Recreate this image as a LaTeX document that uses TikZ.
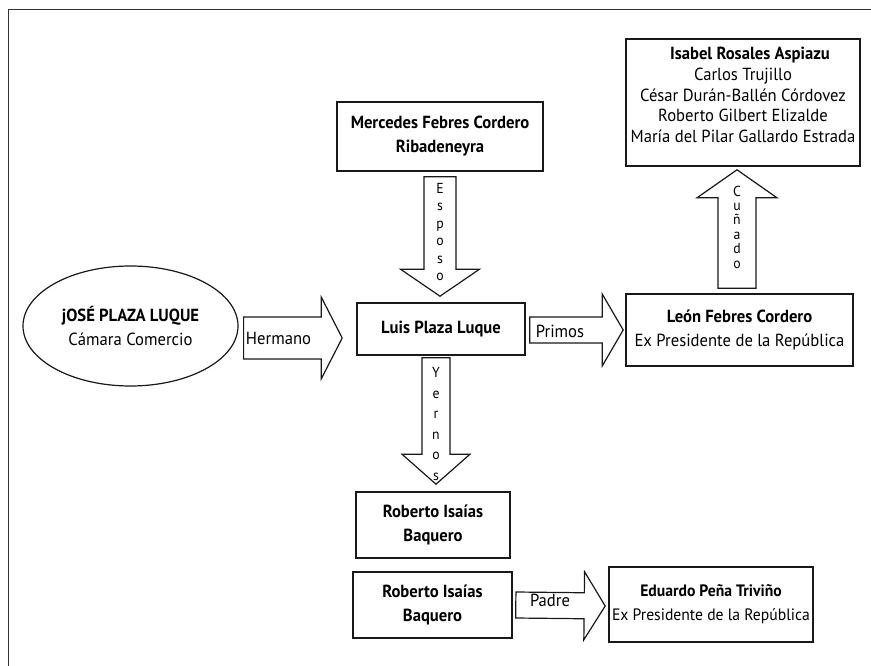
\documentclass[tikz,border=0pt]{standalone}
\usepackage{fontspec}
\setmainfont{PT Sans}[FakeStretch=0.95]
\usetikzlibrary{calc,shapes.geometric}

% block arrow from tail #2 to tip #3: shaft half-width #4, head half-width #5, head length #6
\newcommand\blockarrow[6]{%
  \coordinate (#1-b) at ($(#3)!#6!(#2)$);
  \draw[blockarrow] ($(#2)!#4!90:(#3)$) -- ($(#1-b)!#4!90:(#3)$)
    -- ($(#1-b)!#5!90:(#3)$) -- (#3) -- ($(#1-b)!#5!-90:(#3)$)
    -- ($(#1-b)!#4!-90:(#3)$) -- ($(#2)!#4!-90:(#3)$) -- cycle;}

\tikzset{
  frame/.style={draw=black!80, line width=1.8pt},
  box/.style={draw=black!90, line width=1.6pt, rectangle, inner sep=0pt, align=center,
    font=\fontsize{17.5}{24}\selectfont},
  oval/.style={draw=black!90, line width=1.2pt, ellipse, inner sep=0pt, align=center,
    font=\fontsize{17.5}{24}\selectfont},
  blockarrow/.style={draw=black!90, line width=1.2pt, fill=white, line join=miter},
  lbl/.style={inner sep=0pt, font=\fontsize{17.5}{18}\selectfont},
  vlbl/.style={inner sep=0pt, align=center, font=\fontsize{14.5}{#1}\selectfont},
  lines/.style={inner sep=0pt, align=center, font=\fontsize{17.5}{20.8}\selectfont},
}

\begin{document}
\begin{tikzpicture}[x=1pt,y=-1pt]
\useasboundingbox (0,0) rectangle (871,666);
\fill[white] (0,0) rectangle (871,666);

% page frame (top and left edges)
\draw[frame] (871,9.5) -- (8.5,9.5) -- (8.5,666);

% people
\node[oval, minimum width=215pt, minimum height=120pt] (jose) at (130.5,326)
  {\textbf{jOSÉ PLAZA LUQUE}\\Cámara Comercio};
\node[box, minimum width=168pt, minimum height=52pt] (luis) at (441,329)
  {\raisebox{3pt}{\textbf{Luis Plaza Luque}}};
\node[box, minimum width=206pt, minimum height=69pt] (mercedes) at (440,136.5)
  {\textbf{Mercedes Febres Cordero}\\\textbf{Ribadeneyra}};
\node[box, minimum width=227pt, minimum height=72pt] (leon) at (739.5,330)
  {\textbf{León Febres Cordero}\\Ex Presidente de la República};
\node[box, minimum width=234pt, minimum height=127pt] (isabel) at (743,102.5) {};
\node[lines] (isabel-txt) at (743,95)
  {\hspace*{14pt}\textbf{Isabel Rosales Aspiazu}\\Carlos Trujillo\\César Durán-Ballén Córdovez\\
   Roberto Gilbert Elizalde\\María del Pilar Gallardo Estrada};
\node[box, minimum width=154pt, minimum height=66pt] (roberto1) at (433,525)
  {\textbf{Roberto Isaías}\\\textbf{Baquero}};
\node[box, minimum width=159pt, minimum height=66pt] (roberto2) at (432.5,605)
  {\textbf{Roberto Isaías}\\\textbf{Baquero}};
\node[box, minimum width=204pt, minimum height=75pt, font=\fontsize{16.5}{24}\selectfont]
  (eduardo) at (711,604.5)
  {\textbf{Eduardo Peña Triviño}\\Ex Presidente de la República};

% relation arrows
\coordinate (herm-t) at ($(jose.east)+(5,12)$);
\coordinate (herm-p) at ($(luis.west)+(-14,9)$);
\blockarrow{herm}{herm-t}{herm-p}{21pt}{41pt}{21pt}
\node[lbl] (herm-l) at (278.5,338) {Hermano};

\coordinate (prim-t) at ($(luis.east)+(4,1)$);
\coordinate (prim-p) at ($(leon.west)+(-2,0)$);
\blockarrow{prim}{prim-t}{prim-p}{13pt}{36pt}{21pt}
\node[lbl] (prim-l) at (560,331) {Primos};

\coordinate (padr-t) at ($(roberto2.east)+(3,0)$);
\coordinate (padr-p) at ($(eduardo.west)+(-3,1.5)$);
\blockarrow{padr}{padr-t}{padr-p}{13pt}{34pt}{21pt}
\node[lbl] (padr-l) at (550,600) {Padre};

\coordinate (espo-t) at ($(mercedes.south)+(0,5)$);
\coordinate (espo-p) at ($(luis.north)+(-1,-6)$);
\blockarrow{espo}{espo-t}{espo-p}{16pt}{39.5pt}{27pt}
\node[vlbl=17.4] (espo-l) at (440,232) {E\\s\\p\\o\\s\\o};

\coordinate (yern-t) at ($(luis.south)+(-5,2)$);
\coordinate (yern-p) at ($(roberto1.north)+(3,-7)$);
\blockarrow{yern}{yern-t}{yern-p}{14pt}{34pt}{30pt}
\node[vlbl=20.6] (yern-l) at (436,424) {Y\\e\\r\\n\\o\\s};

\coordinate (cuna-t) at ($(leon.north)+(-2.5,-5)$);
\coordinate (cuna-p) at ($(isabel.south)+(-6,3)$);
\blockarrow{cuna}{cuna-t}{cuna-p}{19pt}{40pt}{28pt}
\node[vlbl=14.4] (cuna-l) at (737,227) {C\\u\\ñ\\a\\d\\o};
\end{tikzpicture}
\end{document}
